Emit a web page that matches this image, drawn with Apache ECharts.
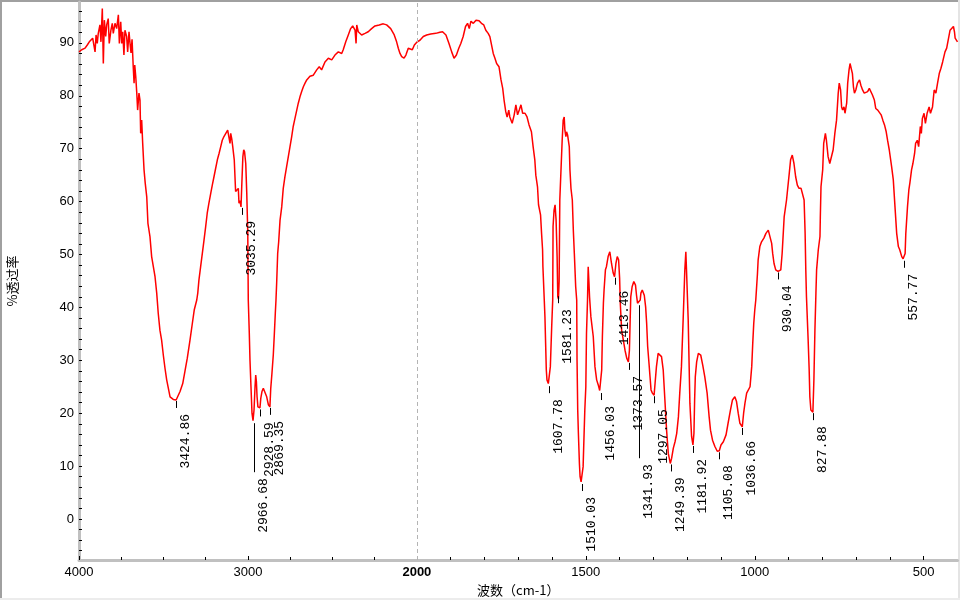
<!DOCTYPE html>
<html><head><meta charset="utf-8">
<script src="https://cdn.jsdelivr.net/npm/echarts@6/dist/echarts.min.js"></script>
<style>html,body{margin:0;padding:0;background:#fff;overflow:hidden}#c{width:960px;height:600px}</style>
</head><body><div id="c"></div>
<script>
// ---------- data ----------
const wavenumbers = [
4000,3984,3964,3951,3939,3929,3919,3909,3905,3899,3892,3886,3876,3870,3862,3856,3850,3842,3836,3827,
3821,3811,3803,3797,3787,3777,3767,3761,3753,3747,3741,3734,3728,3718,3712,3704,3698,3692,3686,3682,
3679,3674,3670,3664,3658,3653,3645,3639,3635,3629,3623,3615,3608,3599,3592,3580,3570,3560,3550,3540,
3531,3521,3511,3501,3491,3481,3471,3461,3451,3442,3425,3416,3402,3386,3373,3359,3343,3329,3318,3303,
3297,3290,3280,3270,3260,3250,3241,3231,3220,3211,3201,3191,3181,3171,3161,3152,3142,3132,3120,3112,
3106,3102,3096,3090,3081,3073,3063,3057,3053,3047,3041,3036,3030,3025,3020,3013,3007,3001,2998,2992,
2988,2982,2976,2970,2967,2964,2958,2954,2950,2946,2941,2935,2929,2924,2917,2909,2899,2889,2879,2870,
2865,2858,2850,2844,2838,2834,2830,2824,2818,2810,2800,2791,2781,2771,2761,2751,2741,2732,2722,2711,
2702,2692,2682,2672,2662,2652,2633,2613,2593,2578,2564,2544,2524,2504,2485,2465,2445,2436,2421,2406,
2392,2380,2366,2360,2356,2347,2327,2307,2288,2268,2248,2223,2199,2179,2155,2134,2120,2110,2100,2090,
2076,2065,2051,2041,2027,2015,1999,1991,1981,1971,1959,1944,1932,1924,1914,1905,1897,1890,1883,1876,
1870,1863,1856,1850,1845,1840,1833,1825,1816,1809,1802,1796,1789,1784,1779,1774,1769,1764,1757,1751,
1746,1742,1737,1733,1728,1725,1718,1712,1707,1702,1697,1692,1687,1680,1674,1668,1661,1656,1651,1648,
1643,1640,1634,1631,1628,1627,1623,1621,1619,1617,1615,1611,1608,1605,1601,1598,1597,1594,1591,1588,
1585,1583,1581,1579,1577,1570,1567,1564,1562,1559,1557,1554,1549,1547,1544,1540,1537,1534,1530,1527,
1526,1524,1522,1519,1517,1514,1510,1508,1506,1503,1500,1498,1495,1493,1491,1489,1485,1478,1473,1468,
1463,1459,1456,1453,1451,1448,1446,1442,1439,1434,1429,1424,1419,1415,1411,1407,1403,1400,1398,1394,
1389,1384,1379,1374,1371,1369,1367,1363,1358,1353,1350,1347,1342,1339,1337,1333,1330,1327,1323,1320,
1317,1313,1310,1307,1303,1298,1295,1291,1286,1281,1276,1271,1266,1261,1256,1250,1246,1241,1236,1231,
1226,1222,1217,1212,1207,1204,1202,1197,1192,1187,1183,1180,1178,1176,1172,1167,1164,1160,1154,1148,
1141,1135,1131,1125,1118,1111,1105,1100,1093,1085,1079,1072,1066,1059,1054,1049,1044,1037,1033,1029,
1024,1019,1014,1009,1006,1003,1000,997,992,990,985,980,973,967,960,955,950,947,943,938,
931,927,923,919,913,906,903,898,894,889,884,879,874,869,863,858,854,851,849,847,
842,839,837,834,828,825,822,819,817,812,807,806,804,799,796,791,788,783,778,773,
768,763,758,753,750,746,743,740,736,733,728,725,721,718,715,711,708,705,701,696,
690,686,681,676,671,666,661,656,652,646,642,636,631,626,621,616,611,607,602,595,
590,585,580,575,571,565,561,558,555,553,548,544,541,536,532,527,524,519,515,510,
507,504,499,495,490,484,480,474,469,464,459,454,449,444,437,432,427,422,417,412,
409,407,400
];
const transmittance = [
88.3,88.7,89.0,89.6,90.2,89.9,90.9,91.2,88.3,91.5,89.9,91.8,93.4,90.2,96.5,86.1,94.3,91.2,93.4,94.6,
89.9,92.4,93.7,91.8,93.7,92.7,95.3,89.9,94.0,89.9,92.1,87.7,92.4,91.2,88.3,92.1,89.9,88.1,90.7,87.7,
85.5,82.4,85.8,83.6,80.5,77.3,80.5,79.2,72.9,75.4,71.0,66.0,63.5,60.9,55.9,53.4,49.6,47.7,45.8,42.7,
38.9,35.7,33.8,31.0,28.5,26.3,24.7,23.1,22.8,22.6,22.5,22.8,24.1,25.6,27.9,30.4,33.8,37.0,39.5,41.4,
42.7,45.2,47.7,50.2,52.7,55.3,57.8,59.7,61.6,63.1,64.7,66.3,67.9,69.1,70.4,71.6,72.3,72.6,73.5,73.5,
71.0,72.9,71.9,70.4,67.9,61.9,62.2,62.5,59.7,60.2,59.0,63.5,68.5,69.8,69.4,67.2,61.6,54.0,41.4,35.1,
30.1,25.0,20.0,18.6,18.3,20.6,25.0,27.2,26.0,23.1,21.2,20.9,21.0,22.8,24.1,24.7,24.4,23.1,21.6,21.2,
24.7,27.5,31.0,34.8,38.9,41.4,44.6,50.2,52.4,56.5,59.0,62.5,64.7,66.6,68.5,70.4,72.3,74.2,75.7,77.3,
78.6,79.8,80.8,81.7,82.4,83.0,83.7,83.9,84.9,85.5,84.9,86.4,87.1,86.8,87.7,88.3,88.0,88.7,90.2,91.5,
92.7,93.2,92.4,89.9,93.4,92.1,91.5,91.8,92.1,92.7,93.2,93.4,93.6,93.4,92.7,91.5,90.2,89.0,88.0,87.4,
87.1,87.7,89.0,89.3,88.7,89.6,90.2,90.5,91.2,91.5,91.7,91.8,92.0,92.1,91.5,89.9,88.3,87.1,87.7,89.0,
89.9,91.2,93.1,93.7,92.7,94.1,93.7,94.3,94.2,93.7,93.4,92.4,91.8,91.2,90.9,88.0,87.1,86.1,85.5,83.0,
81.4,79.2,77.0,76.0,77.3,76.0,74.8,76.4,78.3,76.4,77.3,78.3,76.7,76.7,76.0,74.5,73.2,70.4,67.9,65.0,
62.8,59.4,57.5,54.0,50.9,47.7,41.4,38.2,33.2,28.2,26.3,25.6,25.3,28.8,36.4,41.4,55.3,58.4,59.4,56.5,
49.6,42.0,41.6,45.0,60.3,71.6,75.4,76.0,73.5,72.3,73.2,72.6,70.4,66.0,62.5,60.3,54.6,50.2,43.9,41.4,
30.0,20.6,16.2,10.5,8.0,7.0,6.8,9.9,14.3,20.6,25.0,35.1,41.4,47.7,45.0,42.0,38.2,34.5,28.8,26.3,
25.3,24.3,24.0,28.2,34.5,40.8,43.3,47.1,47.7,49.6,50.5,48.3,46.5,45.8,48.3,49.6,49.0,45.5,40.8,35.7,
33.8,31.9,30.4,29.7,31.9,37.0,42.0,43.9,44.9,44.2,42.3,40.8,40.5,41.4,42.7,43.3,43.3,42.3,40.1,37.0,
32.6,29.4,26.9,24.4,23.8,23.4,25.7,28.8,31.3,31.6,30.7,28.2,22.5,16.8,12.4,10.5,11.5,13.4,14.6,16.2,
19.3,23.8,28.8,37.6,47.1,50.5,47.0,37.6,21.9,15.6,14.0,16.2,22.5,26.9,29.7,31.3,31.6,31.0,29.1,26.9,
23.8,19.3,16.8,14.9,13.7,12.8,12.9,14.0,14.6,15.9,18.1,20.6,22.5,23.1,22.2,20.0,18.1,17.4,20.0,21.9,
23.8,24.1,25.0,28.8,33.2,37.0,39.5,41.4,46.4,49.0,51.5,52.4,53.1,54.0,54.6,54.3,52.1,50.2,48.3,47.1,
46.8,46.9,47.1,50.2,57.1,60.3,62.2,65.3,67.9,68.8,67.2,64.7,63.1,62.5,62.5,62.8,60.3,54.0,47.1,42.0,
33.8,28.2,23.1,20.6,20.2,26.3,35.7,42.7,47.1,50.9,53.4,57.0,62.8,66.0,71.0,72.9,71.6,68.5,67.2,67.2,
69.8,72.9,75.4,80.5,82.4,81.1,77.9,77.3,77.9,76.7,78.6,82.4,84.9,86.1,85.8,84.2,81.7,80.5,81.1,82.4,
83.0,82.0,81.1,80.5,80.2,80.8,81.4,81.1,80.2,79.2,77.6,77.3,77.3,76.4,75.4,74.5,73.2,71.6,69.8,66.6,
64.1,59.0,54.0,51.5,50.9,49.6,49.2,49.0,50.2,54.0,59.0,62.2,63.5,66.0,67.2,69.1,71.0,71.6,70.4,74.2,
72.9,75.7,76.7,74.8,76.7,77.9,76.7,77.9,81.1,80.5,82.4,84.2,85.2,86.4,88.3,89.0,88.7,92.4,92.7,93.1,
92.1,90.9,90.2
];
const peakLabels = ['3424.86','3035.29','2966.68','2928.59','2869.35','1607.78','1581.23','1510.03','1456.03','1413.46',
  '1373.57','1341.93','1297.05','1249.39','1181.92','1105.08','1036.66','930.04','827.88','557.77'];
const peakWavenumbers = [3424.86,3035.29,2966.68,2928.59,2869.35,1607.78,1581.23,1510.03,1456.03,1413.46,
  1373.57,1341.93,1297.05,1249.39,1181.92,1105.08,1036.66,930.04,827.88,557.77];
const peakTransmittance = [22.5,59.0,18.3,20.9,21.2,25.3,42.3,6.8,24.0,45.8,
  29.7,40.6,23.4,10.5,14.0,12.8,17.4,46.8,20.2,49.0];
const xTickLabels = [4000,3000,2000,1500,1000,500];
const xMinorTicks = [3750,3500,3250,2750,2500,2250,1900,1800,1700,1600,1400,1300,1200,1100,900,800,700,600];
const yTickLabels = [0,10,20,30,40,50,60,70,80,90];
const yMinorTicks = [-6,-4,-2,0,2,4,6,8,10,12,14,16,18,20,22,24,26,28,30,32,34,36,38,40,42,44,46,48,50,52,54,56,58,60,62,64,66,68,70,72,74,76,78,80,82,84,86,88,90,92,94,96];
const boldTick = 2000;
const xAxisTitle = '波数（cm-1）';
const yAxisTitle = '%透过率';

// ---------- layout / styling ----------
const longTicks = {'2966.68': 50, '1341.93': 154};
// split scale: 4000-2000 compressed by 2, 2000-400 normal
function toU(w) { return w >= 2000 ? (4000 - w) / 2 : 1000 + (2000 - w); }
function fromU(u) { return u <= 1000 ? 4000 - 2 * u : 2000 - (u - 1000); }

const lineData = wavenumbers.map((w, i) => [toU(w), transmittance[i]]);
const peakData = peakWavenumbers.map((w, i) => [toU(w), peakTransmittance[i], i]);

const chart = echarts.init(document.getElementById('c'), null, {renderer: 'canvas'});
const AX = '#c0c0c0';
chart.setOption({
  animation: false,
  backgroundColor: '#ffffff',
  grid: {left: 79, right: 2.5, top: 2, bottom: 40, containLabel: false, outerBoundsMode: 'none'},
  xAxis: [{
    type: 'value', min: 0, max: toU(400), position: 'bottom',
    name: xAxisTitle, nameLocation: 'middle', nameGap: 21,
    nameTextStyle: {fontFamily: '"Noto Sans CJK SC"', fontSize: 13, color: '#000'},
    axisLine: {show: true, onZero: false, lineStyle: {color: AX, width: 3}},
    axisTick: {show: true, inside: true, length: 4, lineStyle: {color: '#000', width: 1},
      customValues: xTickLabels.map(toU)},
    axisLabel: {show: true, margin: 6, color: '#000', fontFamily: '"Liberation Sans"', fontSize: 13,
      customValues: xTickLabels.map(toU),
      formatter: function (u) { const w = Math.round(fromU(u)); return w === boldTick ? '{b|' + w + '}' : String(w); },
      rich: {b: {fontWeight: 'bold', fontFamily: '"Liberation Sans"', fontSize: 13, color: '#000'}}},
    splitLine: {show: false}
  }, {
    type: 'value', min: 0, max: toU(400), position: 'bottom', offset: 0,
    axisLine: {show: false, onZero: false}, axisLabel: {show: false}, splitLine: {show: false},
    axisTick: {show: true, inside: true, length: 3, lineStyle: {color: '#000', width: 1},
      customValues: xMinorTicks.map(toU)}
  }],
  yAxis: {
    type: 'value', min: -7.75, max: 97.73,
    name: yAxisTitle, nameLocation: 'middle', nameGap: 60,
    nameTextStyle: {fontFamily: '"Noto Sans CJK SC"', fontSize: 13, color: '#000'},
    axisLine: {show: true, onZero: false, lineStyle: {color: AX, width: 3}},
    axisTick: {show: true, inside: true, length: 3, lineStyle: {color: '#000', width: 1}, customValues: yMinorTicks},
    axisLabel: {show: true, margin: 5, color: '#000', fontFamily: '"Liberation Sans"', fontSize: 13, customValues: yTickLabels},
    splitLine: {show: false}
  },
  series: [{
    type: 'line', xAxisIndex: 0, data: lineData, showSymbol: false, symbol: 'none',
    lineStyle: {color: '#ff0000', width: 1.5}, z: 3, silent: true,
    markLine: {
      silent: true, symbol: ['none', 'none'], label: {show: false}, animation: false,
      lineStyle: {color: '#b4b4b4', type: [4, 3], width: 1},
      emphasis: {disabled: true},
      data: [{xAxis: toU(boldTick)}]
    }
  }, {
    type: 'custom', xAxisIndex: 0, data: peakData, clip: false, silent: true, z: 4,
    renderItem: function (params, api) {
      const i = api.value(2);
      const p = api.coord([api.value(0), api.value(1)]);
      const label = peakLabels[i];
      const len = longTicks[label] || 8;
      const x = Math.round(p[0]) + 0.5;
      return {type: 'group', children: [
        {type: 'line', shape: {x1: x, y1: p[1] + 1, x2: x, y2: p[1] + len}, style: {stroke: '#000', lineWidth: 1}},
        {type: 'text', x: x + 3, y: p[1] + len + 6, rotation: Math.PI / 2,
          style: {text: label, align: 'right', verticalAlign: 'top', fontFamily: '"Liberation Mono"', fontSize: 13, fill: '#000'}}
      ]};
    }
  }],
  graphic: [
    {type: 'rect', shape: {x: 0, y: 0, width: 2, height: 598}, style: {fill: '#a0a0a0'}, silent: true},
    {type: 'rect', shape: {x: 0, y: 0, width: 958, height: 2}, style: {fill: '#a0a0a0'}, silent: true},
    {type: 'rect', shape: {x: 958, y: 0, width: 2, height: 600}, style: {fill: '#e4e4e4'}, silent: true},
    {type: 'rect', shape: {x: 0, y: 598, width: 960, height: 2}, style: {fill: '#ececec'}, silent: true}
  ]
});
</script>
</body></html>
